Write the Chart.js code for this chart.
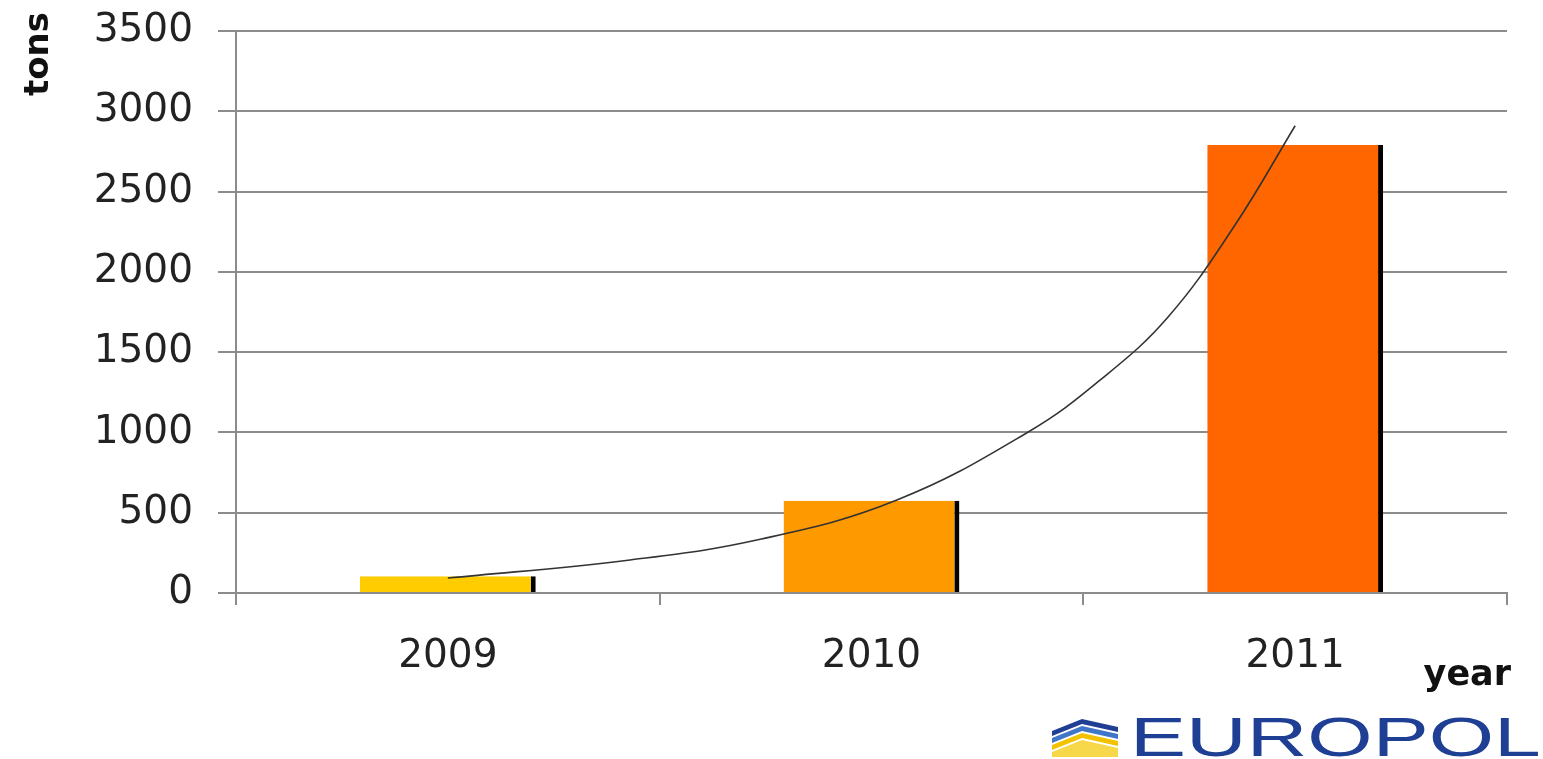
<!DOCTYPE html>
<html>
<head>
<meta charset="utf-8">
<script src="https://cdn.jsdelivr.net/npm/chart.js@4.4.1/dist/chart.umd.min.js"></script>
<style>
  body { margin: 0; background: #fff; }
  #wrap { position: relative; width: 1543px; height: 759px; overflow: hidden; }
  #logo { position: absolute; left: 1052px; top: 716px; height: 42px; display: flex; align-items: center; }
  #logo span { font-family: "Liberation Sans", Arial, sans-serif; font-size: 56px; color: #1f3f94;
               display: inline-block; transform: scaleX(1.5); transform-origin: left center; margin-left: 12px; line-height: 42px; }
</style>
</head>
<body>
<div id="wrap">
  <canvas id="chart" width="1543" height="759"></canvas>
  <div id="logo">
    <svg width="66" height="40" viewBox="0 0 66 40">
      <polygon points="0,14 30,2 66,10 66,15 30,7 0,19" fill="#1f3f94"/>
      <polygon points="0,21 30,9 66,17 66,22 30,14 0,26" fill="#3f76c8"/>
      <polygon points="0,28 30,16 66,24 66,29 30,21 0,33" fill="#f2c200"/>
      <polygon points="0,35 30,23 66,31 66,40 0,40" fill="#f7d84a"/>
    </svg>
    <span>EUROPOL</span>
  </div>
</div>
<script>
const years = ['2009', '2010', '2011'];
const tons = [105, 575, 2790];
const barColors = ['#ffcc00', '#ff9900', '#ff6600'];

// exponential trend line (x = category index)
const trendX = [0, 0.43, 0.74, 1.06, 1.37, 1.54, 1.70, 1.86, 2.0];
const trendY = [93, 206, 336, 579, 1003, 1327, 1719, 2300, 2910];

const gridGray = '#8c8c8c';
const tickFont = { family: '"DejaVu Sans", sans-serif', size: 39, lineHeight: 1 };

const axisText = {
    id: 'axisText',
    afterDraw(chart) {
        const ctx = chart.ctx;
        const area = chart.chartArea;
        ctx.save();
        ctx.fillStyle = '#111';
        ctx.font = 'bold 34px "DejaVu Sans", sans-serif';
        // tons, rotated, top left
        ctx.translate(48, 12);
        ctx.rotate(-Math.PI / 2);
        ctx.textAlign = 'right';
        ctx.textBaseline = 'alphabetic';
        ctx.fillText('tons', 0, 0);
        ctx.restore();

        ctx.save();
        ctx.fillStyle = '#111';
        ctx.font = 'bold 35px "DejaVu Sans", sans-serif';
        ctx.textAlign = 'right';
        ctx.textBaseline = 'alphabetic';
        ctx.fillText('year', area.right + 4, 685);
        ctx.restore();
    }
};

new Chart(document.getElementById('chart'), {
    type: 'bar',
    data: {
        labels: years,
        datasets: [
            {
                type: 'line',
                label: 'trend',
                data: trendX.map((x, i) => ({ x: x, y: trendY[i] })),
                xAxisID: 'xTrend',
                yAxisID: 'y',
                borderColor: '#333',
                borderWidth: 1.6,
                pointRadius: 0,
                tension: 0.4,
                fill: false,
                order: 0
            },
            {
                label: 'tons',
                data: tons,
                xAxisID: 'x',
                yAxisID: 'y',
                backgroundColor: barColors,
                borderColor: '#000',
                borderWidth: { top: 0, left: 0, bottom: 0, right: 5 },
                borderSkipped: false,
                barPercentage: 0.415,
                categoryPercentage: 1,
                grouped: false,
                order: 1
            }
        ]
    },
    options: {
        responsive: false,
        animation: false,
        layout: { padding: { top: 31, right: 36, left: 0, bottom: 0 } },
        plugins: { legend: { display: false }, tooltip: { enabled: false } },
        scales: {
            x: {
                type: 'category',
                offset: true,
                grid: { offset: true, drawOnChartArea: false, color: gridGray, lineWidth: 2, tickLength: 12 },
                border: { color: gridGray, width: 2 },
                ticks: { font: tickFont, color: '#222', padding: 32 },
                afterFit(scale) { scale.height = 166; }
            },
            xTrend: {
                type: 'linear',
                axis: 'x',
                display: false,
                offset: false,
                min: -0.5,
                max: 2.5
            },
            y: {
                min: 0,
                max: 3500,
                ticks: { stepSize: 500, font: tickFont, color: '#222', padding: 25, callback: v => String(v) },
                grid: { color: gridGray, lineWidth: 2, tickLength: 18 },
                border: { color: gridGray, width: 2 },
                afterFit(scale) {
                    scale.width = 236;
                    scale.paddingTop = 0;
                    scale.paddingBottom = 0;
                }
            }
        }
    },
    plugins: [axisText]
});
</script>
</body>
</html>
